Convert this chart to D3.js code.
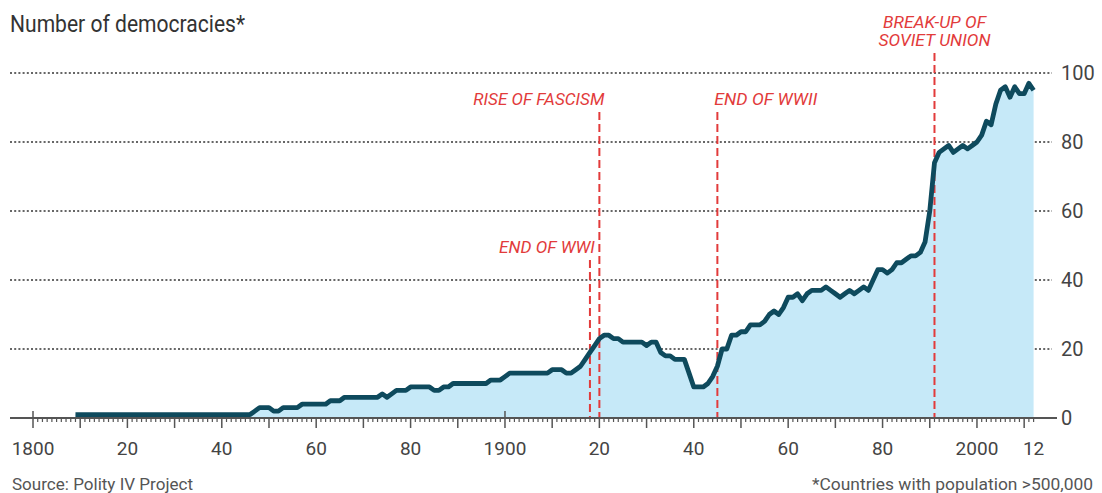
<!DOCTYPE html>
<html>
<head>
<meta charset="utf-8">
<script src="https://cdnjs.cloudflare.com/ajax/libs/d3/7.8.5/d3.min.js"></script>
<style>
  html, body { margin: 0; padding: 0; background: #fff; }
  svg { display: block; font-family: Roboto, "Open Sans", sans-serif; }
</style>
</head>
<body>
<svg id="chart" width="1102" height="493"></svg>
<script>
// number of democracies, one value per year starting 1809
var startYear = 1809;
var democracies = [
  1,
  1,1,1,1,1,1,1,1,1,1,
  1,1,1,1,1,1,1,1,1,1,
  1,1,1,1,1,1,1,1,1,1,
  1,1,1,1,1,1,1,2,3,3,
  3,2,2,3,3,3,3,4,4,4,
  4,4,4,5,5,5,6,6,6,6,
  6,6,6,6,7,6,7,8,8,8,
  9,9,9,9,9,8,8,9,9,10,
  10,10,10,10,10,10,10,11,11,11,
  12,13,13,13,13,13,13,13,13,13,
  14,14,14,13,13,14,15,17,19,21,
  23,24,24,23,23,22,22,22,22,22,
  21,22,22,19,18,18,17,17,17,13,
  9,9,9,10,12,15,20,20,24,24,
  25,25,27,27,27,28,30,31,30,32,
  35,35,36,34,36,37,37,37,38,37,
  36,35,36,37,36,37,38,37,40,43,
  43,42,43,45,45,46,47,47,48,51,
  60,74,77,78,79,77,78,79,78,79,
  80,82,86,85,91,95,96,93,96,94,
  94,97,95
];
var yearTicks = [1800, 1820, 1840, 1860, 1880, 1900, 1920, 1940, 1960, 1980, 2000, 2012];
var yearLabels = ["1800", "20", "40", "60", "80", "1900", "20", "40", "60", "80", "2000", "12"];
var valueTicks = [0, 20, 40, 60, 80, 100];
var eventYears = [1918, 1920, 1945, 1991];
var eventLabels = [["END OF WWI"], ["RISE OF FASCISM"], ["END OF WWII"], ["BREAK-UP OF", "SOVIET UNION"]];

var data = democracies.map(function(v, i){ return {year: startYear + i, value: v}; });

var svg = d3.select("#chart");
var x = d3.scaleLinear().domain([1800, 2012]).range([33, 1033.6]);
var y = d3.scaleLinear().domain([0, 100]).range([418, 73]);

var red = "#e23b3b";
var ink = "#444";

// squeeze text to a width, the original face is a condensed one
function fit(sel, w){
  sel.attr("textLength", w).attr("lengthAdjust", "spacingAndGlyphs");
  return sel;
}

// title
fit(svg.append("text").attr("x", 10).attr("y", 32)
  .attr("font-size", 23).attr("fill", "#333")
  .text("Number of democracies*"), 235);

// gridlines
svg.append("g").selectAll("line")
  .data(valueTicks.filter(function(d){ return d > 0; }))
  .join("line")
  .attr("x1", 10).attr("x2", 1052)
  .attr("y1", function(d){ return y(d); })
  .attr("y2", function(d){ return y(d); })
  .attr("stroke", "#666")
  .attr("stroke-width", 2)
  .attr("stroke-dasharray", "2,2.2");

// right labels
svg.append("g").selectAll("text")
  .data(valueTicks)
  .join("text")
  .attr("x", 1061)
  .attr("y", function(d){ return y(d); })
  .attr("dy", "0.36em")
  .attr("font-size", 20)
  .attr("fill", ink)
  .text(function(d){ return d; });

// area and line
var area = d3.area()
  .x(function(d){ return x(d.year); })
  .y0(y(0))
  .y1(function(d){ return y(d.value); });
var line = d3.line()
  .x(function(d){ return x(d.year); })
  .y(function(d){ return y(d.value); });

svg.append("path").datum(data)
  .attr("d", area)
  .attr("fill", "#c6e9f8");

// event markers
var eventLayout = [
  {top: 260, lx: 5, anchor: "end", base: 253},
  {top: 112, lx: 5, anchor: "end", base: 105},
  {top: 112, lx: -3, anchor: "start", base: 105},
  {top: 53, lx: 0, anchor: "middle", base: 28}
];
var labelWidths = [[96], [131], [103], [103, 112]];

eventYears.forEach(function(yr, i){
  var L = eventLayout[i];
  svg.append("line")
    .attr("x1", x(yr)).attr("x2", x(yr))
    .attr("y1", L.top).attr("y2", y(0))
    .attr("stroke", red)
    .attr("stroke-width", 2)
    .attr("stroke-dasharray", "8,4");
  eventLabels[i].forEach(function(t, j){
    fit(svg.append("text")
      .attr("x", x(yr) + L.lx)
      .attr("y", L.base + j * 18)
      .attr("text-anchor", L.anchor)
      .attr("font-size", 16.5)
      .attr("font-style", "italic")
      .attr("fill", red)
      .text(t), labelWidths[i][j]);
  });
});

svg.append("path").datum(data)
  .attr("d", line)
  .attr("fill", "none")
  .attr("stroke", "#0e4a5d")
  .attr("stroke-width", 4.8)
  .attr("stroke-linejoin", "round");

// x axis
var axisG = svg.append("g");
axisG.append("line")
  .attr("x1", 10).attr("x2", 1057)
  .attr("y1", y(0)).attr("y2", y(0))
  .attr("stroke", "#555").attr("stroke-width", 2);

var years = d3.range(1800, 2013);
axisG.append("g").selectAll("line")
  .data(years)
  .join("line")
  .attr("x1", function(d){ return x(d); })
  .attr("x2", function(d){ return x(d); })
  .attr("y1", function(d){ return d % 100 === 0 && d < 2000 ? y(0) - 7 : y(0); })
  .attr("y2", function(d){ return d % 10 === 0 ? y(0) + 10 : y(0) + 4; })
  .attr("stroke", "#555")
  .attr("stroke-width", function(d){ return d % 10 === 0 ? 1.5 : 1.2; });

axisG.append("g").selectAll("text")
  .data(yearTicks)
  .join("text")
  .attr("x", function(d){ return x(d); })
  .attr("y", 455)
  .attr("text-anchor", "middle")
  .attr("font-size", 19)
  .attr("fill", ink)
  .text(function(d, i){ return yearLabels[i]; });

// footer
fit(svg.append("text").attr("x", 12).attr("y", 490)
  .attr("font-size", 17).attr("fill", "#555")
  .text("Source: Polity IV Project"), 181);
fit(svg.append("text").attr("x", 1093).attr("y", 490)
  .attr("text-anchor", "end")
  .attr("font-size", 17).attr("fill", "#555")
  .text("*Countries with population >500,000"), 281);
</script>
</body>
</html>
